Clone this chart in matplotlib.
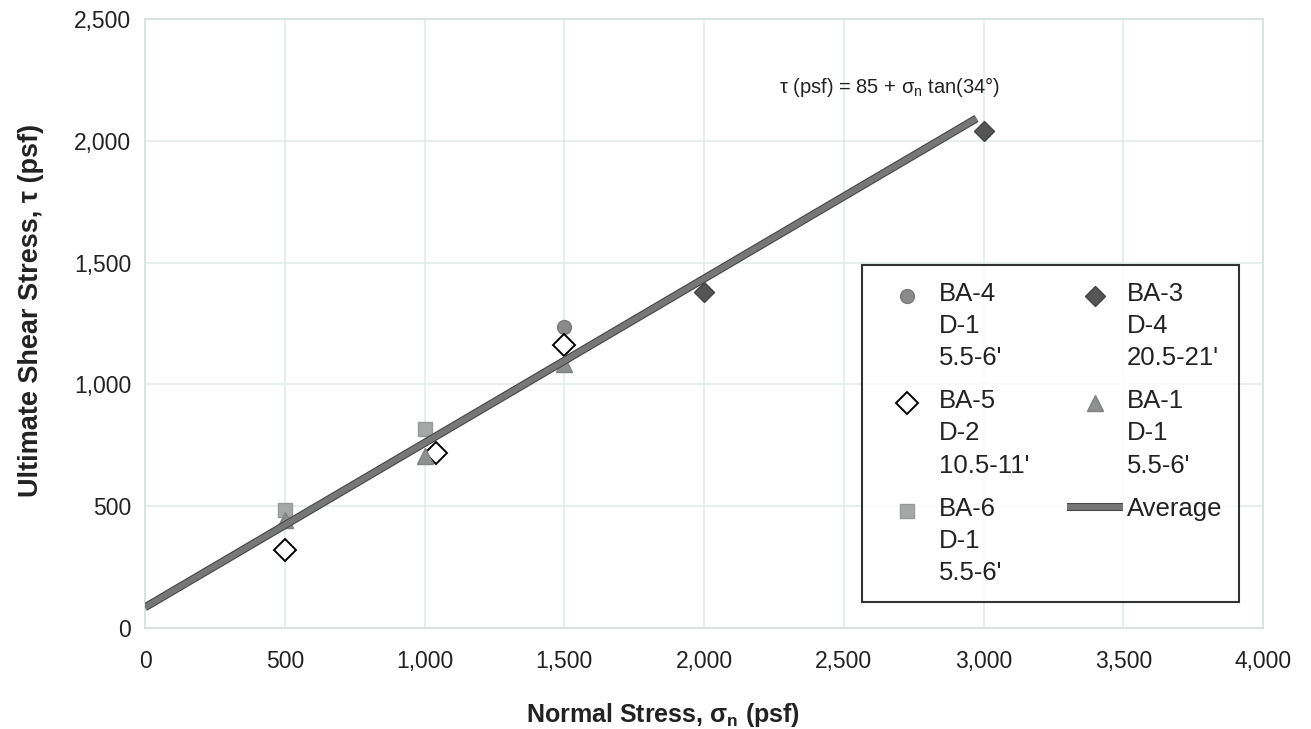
import matplotlib
matplotlib.use("Agg")
import matplotlib.pyplot as plt
import matplotlib.patheffects as pe
from matplotlib.legend_handler import HandlerLine2D
from matplotlib.ticker import StrMethodFormatter
import numpy as np

plt.rcParams["font.family"] = ["Liberation Sans", "DejaVu Sans"]
plt.rcParams["mathtext.fontset"] = "custom"
plt.rcParams["mathtext.rm"] = "Liberation Sans"
plt.rcParams["mathtext.it"] = "Liberation Sans:italic"
plt.rcParams["mathtext.bf"] = "Liberation Sans:bold"

# Direct shear test results (normal stress, shear stress in psf)
ba4_sigma = [1500]
ba4_tau = [1236]

ba5_sigma = [500, 1040, 1500]
ba5_tau = [322, 720, 1162]

ba6_sigma = [500, 1000]
ba6_tau = [484, 817]

ba3_sigma = [2000, 3000]
ba3_tau = [1378, 2040]

ba1_sigma = [500, 1000, 1500]
ba1_tau = [445, 705, 1082]

# Average strength envelope: tau = c + sigma_n * tan(phi)
cohesion = 85
phi_deg = 34
envelope_sigma = [0, 2975]

xticks = [0, 500, 1000, 1500, 2000, 2500, 3000, 3500, 4000]
yticks = [0, 500, 1000, 1500, 2000, 2500]

LEG_FS = 18.5
LEG_LS = 1.43


class FirstLineHandler(HandlerLine2D):
    """Places the legend marker beside the first line of a multi-line label."""

    def __init__(self, shift, **kw):
        super().__init__(**kw)
        self.shift = shift

    def create_artists(self, legend, orig_handle, xdescent, ydescent,
                       width, height, fontsize, trans):
        arts = super().create_artists(legend, orig_handle, xdescent, ydescent,
                                      width, height, fontsize, trans)
        for a in arts:
            a.set_ydata(np.asarray(a.get_ydata(), dtype=float) + self.shift)
        return arts


fig = plt.figure(figsize=(13.11, 7.29), dpi=100)
ax = fig.add_axes([145 / 1311, 1 - 628 / 729, 1118 / 1311, 609 / 729])

ax.set_xlim(0, 4000)
ax.set_ylim(0, 2500)
ax.set_xticks(xticks)
ax.set_yticks(yticks)
ax.xaxis.set_major_formatter(StrMethodFormatter("{x:,.0f}"))
ax.yaxis.set_major_formatter(StrMethodFormatter("{x:,.0f}"))
ax.grid(True, color="#e3ebe8", linewidth=1.2)
ax.set_axisbelow(True)
for s in ax.spines.values():
    s.set_color("#d3e0da")
    s.set_linewidth(1.2)
ax.tick_params(length=0, labelsize=16.5, colors="#222222")
ax.tick_params(axis="x", pad=16)
ax.tick_params(axis="y", pad=10)

env_x = np.array(envelope_sigma, dtype=float)
env_y = cohesion + env_x * np.tan(np.radians(phi_deg))

h_ba4, = ax.plot(ba4_sigma, ba4_tau, "o", ms=10, color="#8a8a8a", mec="#7a7a7a",
                 label="BA-4\nD-1\n5.5-6'", zorder=3)
h_ba5, = ax.plot(ba5_sigma, ba5_tau, "D", ms=11, mfc="white", mec="black", mew=1.4,
                 label="BA-5\nD-2\n10.5-11'", zorder=3)
h_ba6, = ax.plot(ba6_sigma, ba6_tau, "s", ms=10, color="#a6a8a8", mec="#999999",
                 label="BA-6\nD-1\n5.5-6'", zorder=3)
h_ba3, = ax.plot(ba3_sigma, ba3_tau, "D", ms=10, color="#555555", mec="#444444",
                 label="BA-3\nD-4\n20.5-21'", zorder=3)
h_ba1, = ax.plot(ba1_sigma, ba1_tau, "^", ms=11, color="#8f9191", mec="#808080",
                 label="BA-1\nD-1\n5.5-6'", zorder=3)
h_avg, = ax.plot(env_x, env_y, "-", lw=4.2, color="#777777", solid_capstyle="butt",
                 label="Average", zorder=4,
                 path_effects=[pe.Stroke(linewidth=5.8, foreground="#474747"), pe.Normal()])

ax.text(2665, 2220, r"τ (psf) = 85 + $\mathregular{\sigma_n}$ tan(34°)",
        fontsize=14.5, ha="center", va="center", color="#222222")

# shift markers up by one text line (points)
line_step = LEG_LS * 0.84 * LEG_FS
marker_handler = FirstLineHandler(line_step)
leg = ax.legend(handles=[h_ba4, h_ba5, h_ba6, h_ba3, h_ba1, h_avg], ncol=2,
                loc="upper left", bbox_to_anchor=((862 - 145) / 1118, (628 - 265) / 609),
                borderaxespad=0, fontsize=LEG_FS, frameon=True, fancybox=False,
                edgecolor="black", handlelength=2.2, handletextpad=0.15,
                columnspacing=1.45, labelspacing=0.75, borderpad=0.65,
                handler_map={h_ba4: marker_handler, h_ba5: marker_handler,
                             h_ba6: marker_handler, h_ba3: marker_handler,
                             h_ba1: marker_handler})
leg.get_frame().set_linewidth(1.5)
for t in leg.get_texts():
    t.set_linespacing(LEG_LS)
    t.set_color("#222222")

ax.set_xlabel(r"Normal Stress, $\mathbf{\sigma_n}$ (psf)", fontsize=18,
              fontweight="bold", color="#222222")
ax.set_ylabel("Ultimate Shear Stress, τ (psf)", fontsize=19.5, fontweight="bold",
              color="#222222")
ax.xaxis.set_label_coords((663 - 145) / 1118, -(715 - 628) / 609)
ax.yaxis.set_label_coords(-(145 - 31) / 1118, (628 - 310) / 609)
ax.xaxis.label.set_va("center")
ax.yaxis.label.set_va("center")

fig.savefig("out.png", dpi=100, facecolor="white")
